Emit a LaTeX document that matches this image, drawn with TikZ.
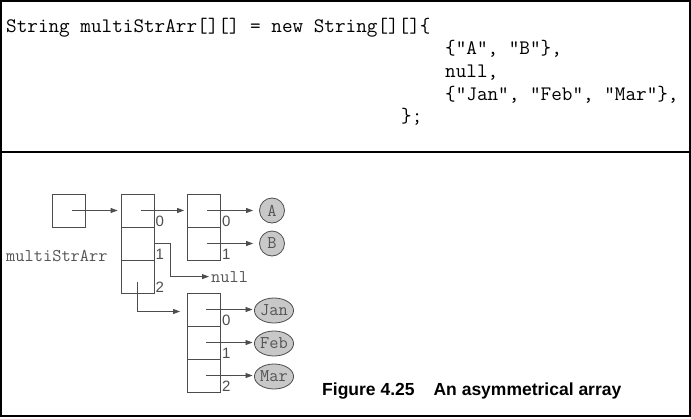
\documentclass[tikz,border=0pt]{standalone}
\usepackage{fontspec}
\setmainfont{Liberation Sans}
\setsansfont{Liberation Sans}
\usetikzlibrary{arrows.meta,positioning,shapes.geometric}
\definecolor{ln}{HTML}{4D4D4D}
\definecolor{valfill}{HTML}{C8C8C8}
\definecolor{txt}{HTML}{555555}
\newcommand{\lblfont}{\ttfamily\fontsize{17.9}{18}\selectfont}
\begin{document}
\begin{tikzpicture}[x=1pt, y=-1pt,
    cell/.style={draw=ln, line width=0.8pt, minimum size=33pt, inner sep=0pt},
    val/.style={ellipse, draw=ln, line width=0.8pt, fill=valfill, inner sep=0pt, minimum height=25pt, font=\lblfont, text=txt},
    idx/.style={anchor=south west, inner sep=1pt, font=\sffamily\fontsize{15}{15}\selectfont, text=ln},
    ptr/.style={draw=ln, line width=0.8pt, -{Triangle[length=7pt,width=5pt]}},
    code/.style={anchor=base west, inner sep=0pt, font=\ttfamily\fontsize{20.6}{24}\selectfont}]
    \useasboundingbox (0,0) rectangle (691,418);
    \draw[line width=1.2pt] (1,1) rectangle (690,416);
    \draw[line width=1.2pt] (1,152) -- (690,152);
    % the declaration
    \node[code] (c1) at (6,32) {String multiStrArr[][] = new String[][]\{};
    \node[code] (c2) at (445,54.7) {\{"A", "B"\},};
    \node[code] (c3) at (445,77.3) {null,};
    \node[code] (c4) at (445,100) {\{"Jan", "Feb", "Mar"\},};
    \node[code] (c5) at (401,122.7) {\};};
    % the arrays
    \node[cell] (ref) at (68.5,210.5) {};
    \foreach \i in {0,1,2} {
        \node[cell] (o\i) at (137.5,210.5+33*\i) {};
        \node[idx] (oi\i) at (o\i.south east) {\i};
    }
    \foreach \i in {0,1} {
        \node[cell] (a\i) at (204,210.5+33*\i) {};
        \node[idx] (ai\i) at (a\i.south east) {\i};
    }
    \foreach \i in {0,1,2} {
        \node[cell] (m\i) at (204,309.5+33*\i) {};
        \node[idx] (mi\i) at (m\i.south east) {\i};
    }
    \node[val, minimum width=25pt] (vA) at (272,210.5) {A};
    \node[val, minimum width=25pt] (vB) at (272,243.5) {B};
    \foreach \i/\s in {0/Jan,1/Feb,2/Mar}
        \node[val, minimum width=39pt] (v\s) at (274,310.5+33*\i) {\s};
    \node[anchor=base west, inner sep=0pt, font=\lblfont, text=txt] (name) at (6,261.5) {multiStrArr};
    \node[anchor=base west, inner sep=2pt, font=\lblfont, text=txt] (nul) at (209,282) {null};
    % references
    \draw[ptr, shorten >=3pt] ([xshift=3pt]ref.center) -- (o0.west);
    \draw[ptr, shorten >=3pt] ([xshift=3pt]o0.center) -- (a0.west);
    \draw[ptr] (o1.east) -- ++(16,0) |- (nul.west);
    \draw[ptr, shorten >=7pt] ([yshift=-5pt]o2.center) |- ([yshift=-2pt]m0.west);
    \foreach \c/\v in {a0/vA,a1/vB}
        \draw[ptr, shorten >=6pt] ([xshift=3pt]\c.center) -- (\c.center -| \v.west);
    \foreach \i/\s in {0/Jan,1/Feb,2/Mar}
        \draw[ptr, shorten >=1.5pt] ([xshift=2pt]m\i.center) -- (m\i.center -| v\s.west);
    \node[anchor=base west, inner sep=0pt, font=\sffamily\bfseries\fontsize{17.5}{20}\selectfont] (cap) at (322,395) {Figure 4.25\hspace{19pt}An asymmetrical array};
\end{tikzpicture}
\end{document}
